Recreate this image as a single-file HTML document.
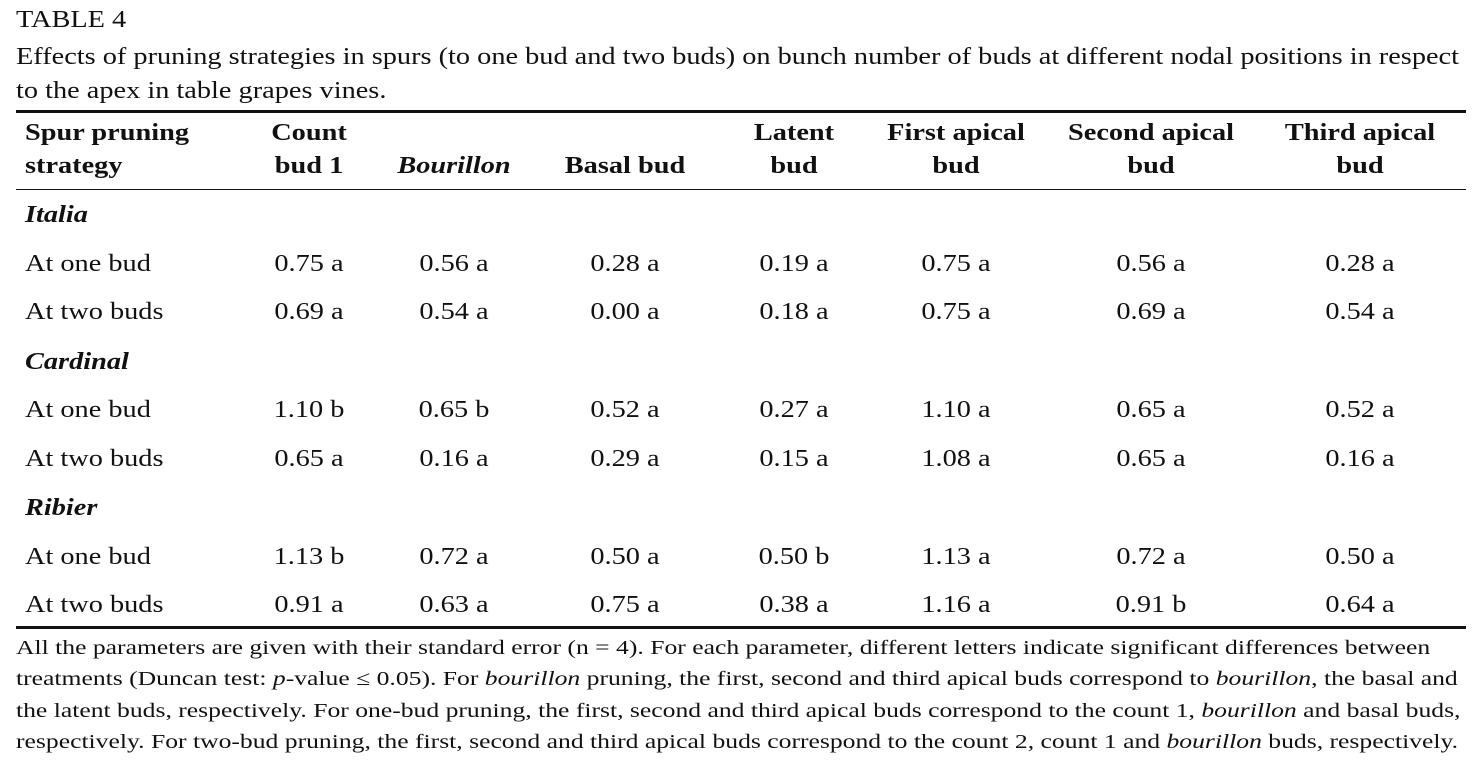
<!DOCTYPE html>
<html><head><meta charset="utf-8"><style>
body{margin:0;width:1478px;height:770px;background:#fff;position:relative;font-family:"Liberation Serif",serif;color:#111;overflow:hidden}
.t{position:absolute;white-space:nowrap;font-size:24px;line-height:26px;transform:scaleX(1.18);transform-origin:0 0}
.c{transform:translateX(-50%) scaleX(1.18);transform-origin:50% 0;text-align:center}
.b{font-weight:bold}
.fn{position:absolute;left:16px;font-size:20.5px;line-height:31.3px;top:633px;white-space:nowrap;transform:scaleX(1.25);transform-origin:0 0}
.rule{position:absolute;left:16px;width:1450px;background:#111}
</style></head><body>
<div class="t" style="left:16px;top:7px">TABLE 4</div>
<div class="t" style="left:16px;top:40px;line-height:34px">Effects of pruning strategies in spurs (to one bud and two buds) on bunch number of buds at different nodal positions in respect<br>to the apex in table grapes vines.</div>
<div class="rule" style="top:110px;height:3px"></div>
<div class="rule" style="top:189px;height:1px"></div>
<div class="rule" style="top:626px;height:3px"></div>
<div>
<div class="t b" style="left:25px;top:117px;line-height:33px">Spur pruning<br>strategy</div>
<div class="t b c" style="left:309px;top:117px;line-height:33px">Count<br>bud 1</div>
<div class="t b c" style="left:454px;top:150px;line-height:33px"><i>Bourillon</i></div>
<div class="t b c" style="left:625px;top:150px;line-height:33px">Basal bud</div>
<div class="t b c" style="left:794px;top:117px;line-height:33px">Latent<br>bud</div>
<div class="t b c" style="left:956px;top:117px;line-height:33px">First apical<br>bud</div>
<div class="t b c" style="left:1151px;top:117px;line-height:33px">Second apical<br>bud</div>
<div class="t b c" style="left:1360px;top:117px;line-height:33px">Third apical<br>bud</div>
</div>
<div id="body"></div>
<div class="fn">All the parameters are given with their standard error (n = 4). For each parameter, different letters indicate significant differences between<br>treatments (Duncan test: <i>p</i>-value ≤ 0.05). For <i>bourillon</i> pruning, the first, second and third apical buds correspond to <i>bourillon</i>, the basal and<br>the latent buds, respectively. For one-bud pruning, the first, second and third apical buds correspond to the count 1, <i>bourillon</i> and basal buds,<br>respectively. For two-bud pruning, the first, second and third apical buds correspond to the count 2, count 1 and <i>bourillon</i> buds, respectively.</div>
<script>
const groups=["Italia","Cardinal","Ribier"];
const rowLabels=["At one bud","At two buds"];
const values=[
["0.75 a","0.56 a","0.28 a","0.19 a","0.75 a","0.56 a","0.28 a"],
["0.69 a","0.54 a","0.00 a","0.18 a","0.75 a","0.69 a","0.54 a"],
["1.10 b","0.65 b","0.52 a","0.27 a","1.10 a","0.65 a","0.52 a"],
["0.65 a","0.16 a","0.29 a","0.15 a","1.08 a","0.65 a","0.16 a"],
["1.13 b","0.72 a","0.50 a","0.50 b","1.13 a","0.72 a","0.50 a"],
["0.91 a","0.63 a","0.75 a","0.38 a","1.16 a","0.91 b","0.64 a"]];
const colX=[309,454,625,794,956,1151,1360];
const body=document.getElementById('body');
function add(txt,x,y,cls){const d=document.createElement('div');d.className='t '+cls;d.style.left=x+'px';d.style.top=(y-13)+'px';d.innerHTML=txt;body.appendChild(d);return d;}
groups.forEach((g,gi)=>{
 const y0=215+gi*146.5;
 const gd=add('<i>'+g+'</i>',25,y0,'b');
 
 
 rowLabels.forEach((r,ri)=>{
  const y=y0+48.5*(ri+1);
  const ld=add(r,25,y,'');
  
  
  values[gi*2+ri].forEach((v,ci)=>{
   const cd=add(v,colX[ci],y,'c');
   
   
  });
 });
});
</script>
</body></html>
